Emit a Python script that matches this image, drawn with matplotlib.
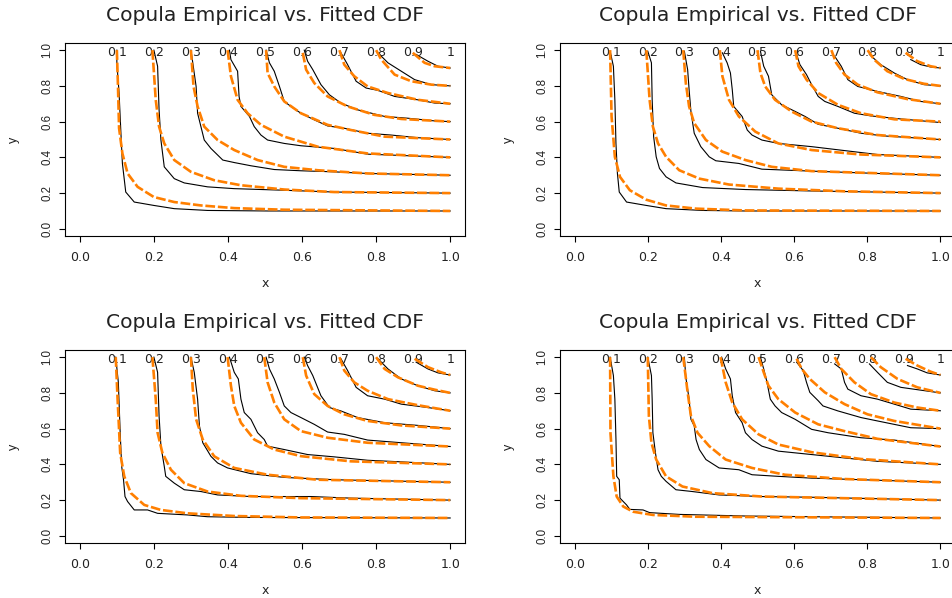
import numpy as np
import matplotlib
matplotlib.use("Agg")
import matplotlib.pyplot as plt

# niveis das curvas de contorno
niveis = [0.1, 0.2, 0.3, 0.4, 0.5, 0.6, 0.7, 0.8, 0.9, 1.0]
rotulos_niveis = ["0.1", "0.2", "0.3", "0.4", "0.5", "0.6", "0.7", "0.8", "0.9", "1"]
ticks = [0.0, 0.2, 0.4, 0.6, 0.8, 1.0]
rotulos_ticks = ["0.0", "0.2", "0.4", "0.6", "0.8", "1.0"]
titulo = "Copula Empirical vs. Fitted CDF"

empirica_1 = [
    [(0.10, 1.0), (0.10, 0.93), (0.106, 0.76), (0.111, 0.535), (0.115, 0.366), (0.124, 0.206), (0.147, 0.15), (0.20, 0.131), (0.255, 0.113), (0.345, 0.103), (0.507, 0.10), (1.0, 0.10)],
    [(0.20, 1.0), (0.21, 0.91), (0.214, 0.666), (0.219, 0.497), (0.228, 0.347), (0.255, 0.281), (0.282, 0.257), (0.345, 0.235), (0.417, 0.225), (0.552, 0.216), (0.687, 0.206), (1.0, 0.20)],
    [(0.30, 1.0), (0.305, 0.929), (0.314, 0.797), (0.318, 0.647), (0.327, 0.572), (0.336, 0.497), (0.354, 0.45), (0.386, 0.385), (0.417, 0.371), (0.462, 0.353), (0.525, 0.332), (0.597, 0.325), (0.687, 0.319), (0.777, 0.31), (1.0, 0.30)],
    [(0.404, 1.0), (0.408, 0.947), (0.426, 0.882), (0.43, 0.741), (0.435, 0.685), (0.458, 0.629), (0.471, 0.572), (0.489, 0.525), (0.507, 0.497), (0.552, 0.478), (0.597, 0.465), (0.687, 0.45), (0.777, 0.418), (1.0, 0.40)],
    [(0.503, 1.0), (0.512, 0.929), (0.525, 0.882), (0.539, 0.797), (0.552, 0.713), (0.57, 0.685), (0.597, 0.647), (0.633, 0.61), (0.669, 0.576), (0.714, 0.563), (0.777, 0.535), (0.84, 0.525), (0.913, 0.51), (1.0, 0.50)],
    [(0.606, 1.0), (0.615, 0.938), (0.629, 0.891), (0.651, 0.807), (0.674, 0.75), (0.705, 0.704), (0.75, 0.666), (0.823, 0.629), (0.886, 0.619), (0.958, 0.604), (1.0, 0.60)],
    [(0.705, 0.985), (0.723, 0.919), (0.746, 0.826), (0.773, 0.788), (0.805, 0.775), (0.85, 0.741), (0.913, 0.722), (0.958, 0.704), (1.0, 0.70)],
    [(0.805, 0.985), (0.832, 0.929), (0.868, 0.882), (0.904, 0.835), (0.949, 0.807), (1.0, 0.80)],
    [(0.908, 0.976), (0.94, 0.938), (0.967, 0.91), (1.0, 0.90)],
]
ajustada_1 = [
    [(0.10, 1.0), (0.103, 0.80), (0.106, 0.563), (0.115, 0.422), (0.129, 0.31), (0.156, 0.235), (0.20, 0.178), (0.255, 0.15), (0.327, 0.131), (0.417, 0.116), (0.552, 0.107), (1.0, 0.10)],
    [(0.196, 1.0), (0.205, 0.722), (0.214, 0.572), (0.228, 0.478), (0.255, 0.385), (0.30, 0.319), (0.363, 0.272), (0.435, 0.244), (0.552, 0.22), (0.687, 0.206), (1.0, 0.20)],
    [(0.30, 1.0), (0.307, 0.797), (0.318, 0.685), (0.336, 0.572), (0.372, 0.497), (0.417, 0.441), (0.48, 0.385), (0.552, 0.347), (0.642, 0.328), (0.777, 0.31), (1.0, 0.30)],
    [(0.399, 1.0), (0.408, 0.854), (0.426, 0.722), (0.453, 0.647), (0.489, 0.582), (0.552, 0.516), (0.642, 0.46), (0.777, 0.422), (1.0, 0.40)],
    [(0.503, 1.0), (0.507, 0.872), (0.525, 0.797), (0.552, 0.713), (0.597, 0.647), (0.669, 0.582), (0.732, 0.553), (0.823, 0.516), (1.0, 0.50)],
    [(0.602, 0.985), (0.611, 0.891), (0.633, 0.816), (0.669, 0.741), (0.723, 0.685), (0.795, 0.638), (0.868, 0.615), (1.0, 0.60)],
    [(0.701, 1.0), (0.714, 0.919), (0.741, 0.854), (0.777, 0.797), (0.832, 0.76), (0.913, 0.722), (1.0, 0.70)],
    [(0.80, 1.0), (0.814, 0.947), (0.85, 0.863), (0.895, 0.826), (0.949, 0.807), (1.0, 0.80)],
    [(0.899, 0.985), (0.931, 0.929), (0.958, 0.91), (1.0, 0.90)],
]

# painel 2 (superior direito)
empirica_2 = [
    [(0.097, 0.994), (0.106, 0.91), (0.11, 0.722), (0.113, 0.478), (0.117, 0.31), (0.122, 0.206), (0.142, 0.15), (0.196, 0.131), (0.25, 0.113), (0.35, 0.103), (0.467, 0.10), (1.0, 0.10)],
    [(0.20, 0.994), (0.21, 0.929), (0.212, 0.722), (0.216, 0.516), (0.223, 0.403), (0.232, 0.338), (0.25, 0.291), (0.277, 0.257), (0.35, 0.231), (0.467, 0.22), (0.648, 0.212), (1.0, 0.20)],
    [(0.30, 0.994), (0.309, 0.891), (0.313, 0.779), (0.318, 0.657), (0.327, 0.535), (0.345, 0.46), (0.368, 0.403), (0.386, 0.381), (0.449, 0.366), (0.512, 0.334), (0.648, 0.323), (0.828, 0.31), (1.0, 0.30)],
    [(0.404, 0.985), (0.417, 0.929), (0.426, 0.872), (0.431, 0.779), (0.435, 0.685), (0.458, 0.629), (0.472, 0.553), (0.485, 0.525), (0.512, 0.497), (0.557, 0.478), (0.648, 0.46), (0.828, 0.416), (1.0, 0.40)],
    [(0.508, 0.994), (0.517, 0.91), (0.53, 0.854), (0.539, 0.75), (0.566, 0.694), (0.603, 0.657), (0.63, 0.629), (0.666, 0.585), (0.72, 0.563), (0.783, 0.535), (0.846, 0.52), (1.0, 0.50)],
    [(0.607, 0.976), (0.616, 0.919), (0.634, 0.863), (0.648, 0.807), (0.666, 0.741), (0.684, 0.713), (0.72, 0.685), (0.765, 0.647), (0.81, 0.632), (0.892, 0.615), (1.0, 0.595)],
    [(0.711, 0.966), (0.729, 0.91), (0.747, 0.835), (0.774, 0.797), (0.828, 0.769), (0.892, 0.741), (0.946, 0.713), (1.0, 0.70)],
    [(0.806, 0.976), (0.837, 0.919), (0.874, 0.872), (0.91, 0.835), (0.955, 0.807), (1.0, 0.80)],
    [(0.919, 0.947), (0.946, 0.919), (0.973, 0.906), (1.0, 0.90)],
]
ajustada_2 = [
    [(0.097, 1.0), (0.101, 0.629), (0.11, 0.403), (0.124, 0.291), (0.151, 0.216), (0.196, 0.163), (0.25, 0.131), (0.332, 0.113), (0.467, 0.103), (1.0, 0.10)],
    [(0.196, 1.0), (0.205, 0.722), (0.214, 0.572), (0.228, 0.478), (0.25, 0.403), (0.286, 0.328), (0.341, 0.281), (0.422, 0.248), (0.557, 0.225), (0.738, 0.21), (1.0, 0.20)],
    [(0.297, 1.0), (0.304, 0.816), (0.313, 0.685), (0.327, 0.591), (0.359, 0.497), (0.404, 0.432), (0.467, 0.385), (0.539, 0.347), (0.648, 0.323), (1.0, 0.30)],
    [(0.397, 1.0), (0.404, 0.854), (0.422, 0.722), (0.449, 0.629), (0.494, 0.544), (0.557, 0.478), (0.648, 0.441), (0.783, 0.416), (1.0, 0.40)],
    [(0.50, 1.0), (0.508, 0.872), (0.521, 0.797), (0.548, 0.722), (0.593, 0.657), (0.648, 0.60), (0.72, 0.563), (0.828, 0.525), (1.0, 0.50)],
    [(0.603, 1.0), (0.612, 0.91), (0.634, 0.835), (0.666, 0.76), (0.72, 0.694), (0.783, 0.647), (0.874, 0.613), (1.0, 0.60)],
    [(0.702, 1.0), (0.715, 0.929), (0.738, 0.863), (0.774, 0.807), (0.828, 0.764), (0.91, 0.726), (1.0, 0.70)],
    [(0.801, 1.0), (0.819, 0.947), (0.855, 0.882), (0.901, 0.839), (0.955, 0.812), (1.0, 0.80)],
    [(0.905, 0.985), (0.937, 0.938), (0.973, 0.91), (1.0, 0.90)],
]

# painel 3 (inferior esquerdo)
empirica_3 = [
    [(0.097, 1.0), (0.104, 0.859), (0.109, 0.577), (0.113, 0.389), (0.118, 0.314), (0.122, 0.22), (0.129, 0.192), (0.147, 0.145), (0.183, 0.145), (0.21, 0.126), (0.291, 0.117), (0.345, 0.107), (0.462, 0.103), (1.0, 0.10)],
    [(0.20, 1.0), (0.21, 0.915), (0.214, 0.671), (0.219, 0.502), (0.228, 0.389), (0.232, 0.333), (0.255, 0.295), (0.282, 0.258), (0.327, 0.248), (0.372, 0.229), (0.462, 0.22), (0.624, 0.22), (0.732, 0.211), (1.0, 0.20)],
    [(0.30, 1.0), (0.309, 0.915), (0.318, 0.765), (0.323, 0.615), (0.332, 0.521), (0.354, 0.445), (0.372, 0.408), (0.399, 0.38), (0.462, 0.348), (0.552, 0.327), (0.687, 0.314), (1.0, 0.30)],
    [(0.404, 1.0), (0.417, 0.915), (0.428, 0.878), (0.435, 0.765), (0.444, 0.69), (0.462, 0.652), (0.48, 0.577), (0.498, 0.539), (0.507, 0.502), (0.552, 0.483), (0.615, 0.455), (0.687, 0.442), (0.777, 0.423), (0.868, 0.414), (1.0, 0.40)],
    [(0.503, 1.0), (0.512, 0.934), (0.525, 0.878), (0.539, 0.803), (0.552, 0.727), (0.57, 0.69), (0.597, 0.662), (0.633, 0.624), (0.669, 0.581), (0.714, 0.568), (0.777, 0.536), (0.868, 0.521), (1.0, 0.50)],
    [(0.606, 1.0), (0.615, 0.953), (0.629, 0.897), (0.651, 0.784), (0.674, 0.718), (0.705, 0.699), (0.75, 0.662), (0.823, 0.633), (0.913, 0.618), (1.0, 0.60)],
    [(0.705, 0.991), (0.723, 0.925), (0.746, 0.831), (0.777, 0.784), (0.823, 0.765), (0.868, 0.737), (0.94, 0.718), (1.0, 0.70)],
    [(0.805, 0.991), (0.832, 0.934), (0.868, 0.878), (0.913, 0.84), (0.958, 0.812), (1.0, 0.80)],
    [(0.908, 0.972), (0.94, 0.934), (0.967, 0.912), (1.0, 0.90)],
]
ajustada_3 = [
    [(0.097, 1.0), (0.102, 0.765), (0.109, 0.464), (0.12, 0.333), (0.138, 0.239), (0.174, 0.173), (0.219, 0.145), (0.291, 0.126), (0.417, 0.111), (0.597, 0.103), (1.0, 0.10)],
    [(0.196, 1.0), (0.205, 0.765), (0.21, 0.577), (0.223, 0.464), (0.246, 0.37), (0.282, 0.295), (0.345, 0.248), (0.435, 0.224), (0.597, 0.211), (1.0, 0.20)],
    [(0.30, 1.0), (0.305, 0.821), (0.314, 0.652), (0.332, 0.539), (0.363, 0.445), (0.417, 0.38), (0.507, 0.342), (0.642, 0.314), (1.0, 0.30)],
    [(0.399, 1.0), (0.408, 0.84), (0.417, 0.727), (0.435, 0.633), (0.471, 0.539), (0.525, 0.483), (0.597, 0.446), (0.732, 0.417), (1.0, 0.40)],
    [(0.498, 1.0), (0.507, 0.859), (0.525, 0.746), (0.552, 0.652), (0.597, 0.586), (0.669, 0.549), (0.777, 0.521), (1.0, 0.50)],
    [(0.602, 1.0), (0.611, 0.897), (0.633, 0.793), (0.669, 0.727), (0.714, 0.68), (0.777, 0.643), (0.868, 0.618), (1.0, 0.60)],
    [(0.701, 1.0), (0.714, 0.925), (0.741, 0.859), (0.777, 0.812), (0.832, 0.765), (0.913, 0.731), (1.0, 0.70)],
    [(0.80, 1.0), (0.823, 0.934), (0.859, 0.887), (0.913, 0.84), (0.958, 0.818), (1.0, 0.80)],
    [(0.904, 0.991), (0.94, 0.944), (0.976, 0.915), (1.0, 0.90)],
]

# painel 4 (inferior direito)
empirica_4 = [
    [(0.097, 1.0), (0.106, 0.897), (0.11, 0.765), (0.113, 0.539), (0.115, 0.333), (0.122, 0.314), (0.124, 0.211), (0.142, 0.173), (0.151, 0.148), (0.187, 0.145), (0.205, 0.13), (0.286, 0.12), (0.467, 0.111), (0.648, 0.107), (1.0, 0.10)],
    [(0.20, 1.0), (0.21, 0.897), (0.212, 0.765), (0.214, 0.577), (0.221, 0.464), (0.228, 0.37), (0.237, 0.333), (0.25, 0.305), (0.277, 0.258), (0.322, 0.248), (0.395, 0.229), (0.512, 0.22), (0.648, 0.216), (1.0, 0.20)],
    [(0.30, 1.0), (0.304, 0.887), (0.313, 0.765), (0.318, 0.652), (0.327, 0.615), (0.332, 0.539), (0.341, 0.483), (0.359, 0.427), (0.395, 0.38), (0.449, 0.37), (0.485, 0.342), (0.557, 0.333), (0.648, 0.323), (1.0, 0.30)],
    [(0.402, 1.0), (0.413, 0.934), (0.426, 0.878), (0.431, 0.784), (0.44, 0.69), (0.458, 0.633), (0.467, 0.577), (0.485, 0.539), (0.512, 0.502), (0.557, 0.474), (0.648, 0.455), (0.738, 0.436), (0.828, 0.417), (1.0, 0.40)],
    [(0.508, 1.0), (0.517, 0.934), (0.526, 0.859), (0.535, 0.765), (0.548, 0.727), (0.566, 0.69), (0.603, 0.652), (0.648, 0.596), (0.693, 0.577), (0.783, 0.549), (0.874, 0.536), (1.0, 0.50)],
    [(0.607, 0.972), (0.625, 0.925), (0.634, 0.859), (0.643, 0.803), (0.666, 0.756), (0.679, 0.727), (0.72, 0.699), (0.783, 0.662), (0.828, 0.643), (0.919, 0.605), (1.0, 0.60)],
    [(0.711, 0.962), (0.729, 0.934), (0.738, 0.859), (0.747, 0.821), (0.783, 0.784), (0.828, 0.765), (0.874, 0.737), (0.919, 0.709), (1.0, 0.70)],
    [(0.806, 0.962), (0.828, 0.915), (0.855, 0.859), (0.892, 0.831), (0.937, 0.818), (1.0, 0.80)],
    [(0.91, 0.953), (0.937, 0.934), (0.964, 0.912), (1.0, 0.90)],
]
ajustada_4 = [
    [(0.097, 1.0), (0.098, 0.577), (0.106, 0.333), (0.115, 0.22), (0.133, 0.164), (0.16, 0.135), (0.214, 0.117), (0.332, 0.107), (1.0, 0.10)],
    [(0.20, 1.0), (0.203, 0.671), (0.21, 0.521), (0.223, 0.427), (0.25, 0.333), (0.295, 0.276), (0.377, 0.239), (0.512, 0.22), (1.0, 0.20)],
    [(0.297, 1.0), (0.309, 0.803), (0.318, 0.671), (0.336, 0.577), (0.368, 0.502), (0.413, 0.427), (0.485, 0.38), (0.575, 0.342), (0.738, 0.318), (1.0, 0.30)],
    [(0.399, 1.0), (0.413, 0.859), (0.431, 0.746), (0.458, 0.652), (0.503, 0.568), (0.557, 0.511), (0.648, 0.468), (0.783, 0.43), (1.0, 0.40)],
    [(0.503, 1.0), (0.517, 0.915), (0.53, 0.84), (0.557, 0.765), (0.603, 0.69), (0.666, 0.624), (0.738, 0.586), (0.828, 0.543), (1.0, 0.50)],
    [(0.607, 0.991), (0.621, 0.934), (0.643, 0.878), (0.684, 0.803), (0.738, 0.737), (0.801, 0.68), (0.874, 0.643), (1.0, 0.60)],
    [(0.711, 1.0), (0.729, 0.934), (0.765, 0.859), (0.81, 0.793), (0.874, 0.746), (0.937, 0.718), (1.0, 0.70)],
    [(0.81, 1.0), (0.837, 0.944), (0.883, 0.878), (0.937, 0.831), (1.0, 0.80)],
    [(0.905, 0.991), (0.937, 0.953), (0.973, 0.919), (1.0, 0.90)],
]

plt.rcParams['font.family'] = ['DejaVu Sans']
plt.rcParams['lines.scale_dashes'] = False

fig = plt.figure(figsize=(9.53, 5.98), dpi=100)

# posicoes dos paineis em fracao da figura (esquerda, baixo, largura, altura)
largura_esq = 400 / 953
largura_dir = 395 / 953
altura = 193 / 598
posicoes = [
    (65 / 953, 1 - 236 / 598, largura_esq),
    (560 / 953, 1 - 236 / 598, largura_dir),
    (65 / 953, 1 - 543 / 598, largura_esq),
    (560 / 953, 1 - 543 / 598, largura_dir),
]
paineis = [
    (empirica_1, ajustada_1),
    (empirica_2, ajustada_2),
    (empirica_3, ajustada_3),
    (empirica_4, ajustada_4),
]

laranja = '#FF7F00'
cinza_texto = '#222222'

for (esq, baixo, largura), (empirica, ajustada) in zip(posicoes, paineis):
    ax = fig.add_axes([esq, baixo, largura, altura])

    for curva in empirica:
        pts = np.array(curva)
        ax.plot(pts[:, 0], pts[:, 1], color='black', linewidth=0.8, zorder=2)

    for nivel, rotulo in zip(niveis, rotulos_niveis):
        ax.text(nivel, 0.987, rotulo, ha='center', va='center', fontsize=9, color=cinza_texto, zorder=3)

    for curva in ajustada:
        pts = np.array(curva)
        ax.plot(pts[:, 0], pts[:, 1], color=laranja, linewidth=1.9, dashes=(7, 2), zorder=4)

    ax.set_xlim(-0.04, 1.04)
    ax.set_ylim(-0.04, 1.04)
    ax.set_xticks(ticks)
    ax.set_xticklabels(rotulos_ticks, fontsize=9, color=cinza_texto)
    ax.set_yticks(ticks)
    ax.set_yticklabels(rotulos_ticks, rotation=90, va='center', fontsize=8.3,
                       family='Liberation Sans', color=cinza_texto)
    ax.tick_params(axis='x', direction='out', length=4, width=0.8, pad=6.5)
    ax.tick_params(axis='y', direction='out', length=4.5, width=0.8, pad=4)
    for s in ax.spines.values():
        s.set_linewidth(0.8)
    ax.set_xlabel('x', fontsize=9, labelpad=10, color=cinza_texto)
    ax.set_ylabel('y', fontsize=9, labelpad=15, family='Liberation Sans', color=cinza_texto)
    ax.set_title(titulo, fontsize=14.6, pad=15.5, color=cinza_texto)

fig.savefig('out.png', dpi=100)
